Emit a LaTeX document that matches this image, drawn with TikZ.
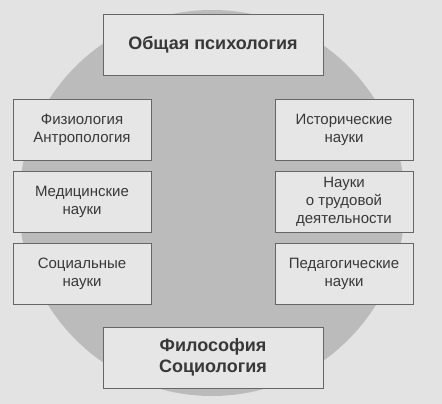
\documentclass[tikz,border=0pt]{standalone}
\usepackage{fontspec}
\setmainfont{Liberation Sans}
\usetikzlibrary{positioning}
\definecolor{paper}{HTML}{E3E3E3}
\definecolor{disc}{HTML}{BBBBBB}
\definecolor{boxfill}{HTML}{E6E6E6}
\definecolor{boxline}{HTML}{666666}
\definecolor{ink}{HTML}{383838}

\begin{document}
\begin{tikzpicture}[x=1pt,y=-1pt,
	side/.style={draw=boxline,fill=boxfill,line width=0.8pt,minimum width=138pt,minimum height=61pt,inner sep=0pt,align=center,text=ink,font=\fontsize{15}{18}\selectfont},
	head/.style={side,minimum width=220pt,font=\fontsize{18}{21}\selectfont\bfseries},]
	\fill[paper] (0,0) rectangle (442,404);
	\useasboundingbox (0,0) rectangle (442,404);
	\fill[disc] (212,203) circle (193pt);
	
	\node[head] (gen) at (213,44.5) {Общая психология};
	\node[head] (phil) at (213,357.5) {Философия\\Социология};
	
	\node[side] (phys) at (82,129.5) {Физиология\\Антропология};
	\node[side] (med) at (82,201.5) {Медицинские\\науки};
	\node[side] (soc) at (82,274) {Социальные\\науки};
	
	\node[side] (hist) at (344,129.5) {Исторические\\науки};
	\node[side] (work) at (344,201.5) {Науки\\о трудовой\\деятельности};
	\node[side] (ped) at (344,274) {Педагогические\\науки};
  \end{tikzpicture}
\end{document}
